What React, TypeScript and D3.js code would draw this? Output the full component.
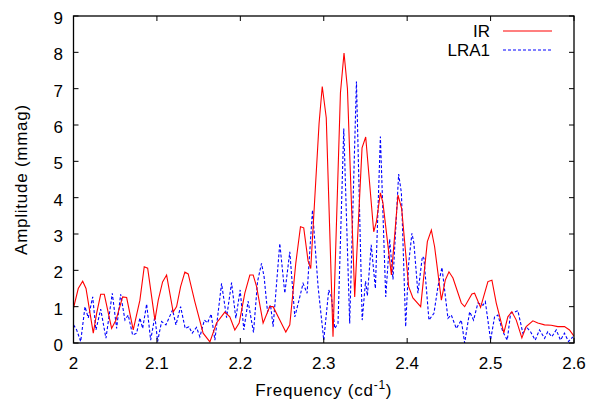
import React from "react";
import * as d3 from "d3";

const irFreq = [2.0, 2.0057, 2.011, 2.015, 2.0237, 2.0278, 2.0326, 2.0369, 2.0457, 2.0509, 2.0589, 2.0637, 2.0716, 2.0796, 2.0848, 2.0889, 2.0976, 2.1016, 2.1068, 2.1116, 2.1195, 2.1236, 2.1284, 2.1335, 2.1375, 2.1455, 2.1554, 2.1635, 2.1715, 2.1814, 2.1874, 2.1934, 2.1986, 2.2054, 2.2114, 2.2154, 2.2195, 2.2273, 2.2353, 2.2393, 2.2473, 2.2545, 2.2593, 2.2665, 2.2721, 2.276, 2.2812, 2.2844, 2.2944, 2.2982, 2.303, 2.3111, 2.32, 2.3243, 2.3284, 2.3371, 2.3459, 2.3503, 2.3599, 2.3631, 2.3679, 2.371, 2.3811, 2.389, 2.3934, 2.4018, 2.4069, 2.4162, 2.4242, 2.429, 2.4329, 2.441, 2.4457, 2.4501, 2.4549, 2.4649, 2.4689, 2.4776, 2.4808, 2.488, 2.4968, 2.5016, 2.5068, 2.5159, 2.5207, 2.5255, 2.5308, 2.5375, 2.5427, 2.5507, 2.5566, 2.5647, 2.5727, 2.5806, 2.5886, 2.5946, 2.6];
const irAmp = [0.96, 1.5, 1.7, 1.5, 0.27, 0.82, 1.34, 1.34, 0.4, 0.63, 1.27, 1.25, 0.36, 1.18, 2.1, 2.06, 0.63, 1.18, 1.68, 1.87, 0.85, 1.0, 1.55, 1.95, 1.9, 1.13, 0.27, 0.03, 0.55, 0.85, 0.72, 0.36, 0.55, 1.37, 1.87, 1.87, 1.55, 0.55, 1.0, 1.0, 0.63, 0.3, 0.5, 2.2, 3.2, 3.17, 2.26, 2.05, 6.05, 7.06, 6.2, 0.17, 6.88, 7.98, 7.0, 1.27, 5.37, 5.67, 3.06, 3.33, 4.13, 3.85, 1.87, 4.07, 3.7, 1.55, 1.24, 1.0, 2.79, 3.11, 2.65, 1.18, 1.73, 1.96, 1.79, 1.1, 1.0, 1.35, 1.37, 0.98, 1.69, 1.73, 1.1, 0.28, 0.72, 0.86, 0.63, 0.14, 0.45, 0.61, 0.55, 0.5, 0.49, 0.45, 0.45, 0.36, 0.19];

const lraFreq = [2.0, 2.0038, 2.0086, 2.0138, 2.0177, 2.023, 2.0269, 2.0326, 2.0389, 2.0465, 2.0517, 2.0565, 2.0617, 2.0656, 2.0709, 2.0757, 2.0796, 2.0829, 2.0877, 2.0925, 2.0976, 2.1008, 2.1056, 2.1108, 2.1188, 2.1228, 2.1284, 2.1339, 2.1383, 2.1423, 2.1475, 2.1515, 2.1569, 2.1607, 2.165, 2.1695, 2.1775, 2.1835, 2.1895, 2.1946, 2.1998, 2.2042, 2.2093, 2.2158, 2.2206, 2.2254, 2.2285, 2.2326, 2.2362, 2.2393, 2.2473, 2.2533, 2.2593, 2.2653, 2.2713, 2.2752, 2.28, 2.2865, 2.2932, 2.3, 2.306, 2.3092, 2.3132, 2.3171, 2.324, 2.3311, 2.3392, 2.3461, 2.3501, 2.3523, 2.3569, 2.3619, 2.3679, 2.3743, 2.379, 2.383, 2.3898, 2.3931, 2.3982, 2.4018, 2.4057, 2.4081, 2.4129, 2.4182, 2.4201, 2.4261, 2.4321, 2.4369, 2.4417, 2.4489, 2.4529, 2.4589, 2.4649, 2.4689, 2.4749, 2.4796, 2.4848, 2.4908, 2.4937, 2.5, 2.5048, 2.5087, 2.5147, 2.52, 2.524, 2.5296, 2.5327, 2.5387, 2.5427, 2.5479, 2.5535, 2.5587, 2.5647, 2.5686, 2.5734, 2.5787, 2.5838, 2.5886, 2.5934, 2.5986];
const lraAmp = [0.5, 0.36, 0.04, 1.0, 0.69, 1.27, 0.36, 0.93, 0.13, 1.37, 0.4, 1.34, 0.63, 0.77, 0.22, 0.27, 0.69, 0.4, 1.07, 0.08, 0.74, 0.04, 0.59, 0.5, 0.91, 0.5, 1.0, 0.4, 0.45, 0.27, 0.43, 0.17, 0.63, 0.55, 0.8, 0.08, 1.64, 0.7, 1.66, 0.68, 1.46, 0.36, 1.15, 0.29, 1.69, 2.19, 1.82, 0.86, 1.05, 0.45, 2.74, 1.37, 2.51, 0.72, 1.27, 1.64, 1.37, 3.66, 1.55, 0.08, 1.46, 1.27, 0.4, 0.54, 5.9, 0.54, 7.2, 0.63, 1.7, 1.3, 2.7, 1.5, 5.68, 1.27, 2.86, 1.75, 4.65, 4.13, 0.45, 2.19, 3.02, 2.74, 1.37, 2.38, 2.33, 0.63, 0.82, 1.55, 2.08, 0.68, 0.77, 0.4, 0.63, 0.0, 0.86, 0.63, 1.1, 1.04, 1.14, 0.08, 0.72, 0.77, 0.31, 0.08, 0.82, 0.86, 0.89, 0.27, 0.45, 0.31, 0.08, 0.36, 0.13, 0.31, 0.17, 0.36, 0.08, 0.27, 0.04, 0.17];

const xTicks = [2, 2.1, 2.2, 2.3, 2.4, 2.5, 2.6];
const xTickLabels = ["2", "2.1", "2.2", "2.3", "2.4", "2.5", "2.6"];
const yTicks = [0, 1, 2, 3, 4, 5, 6, 7, 8, 9];

const seriesNames = ["IR", "LRA1"];

export default function App() {
  const W = 591, H = 402;
  const left = 73.5, right = 574, top = 16, bottom = 343;
  const x = d3.scaleLinear().domain([2, 2.6]).range([left, right]);
  const y = d3.scaleLinear().domain([0, 9]).range([bottom, top]);
  const line = d3.line<[number, number]>().x(d => x(d[0])).y(d => y(d[1]));
  const irPts = irFreq.map((f, i) => [f, irAmp[i]] as [number, number]);
  const lraPts = lraFreq.map((f, i) => [f, lraAmp[i]] as [number, number]);
  const font = "'Liberation Sans', Arial, Helvetica, sans-serif";
  const fs = 17;
  const tickLen = 5;
  return (
    <svg width={W} height={H} style={{ position: "absolute", left: 0, top: 0, background: "#fff" }} fontFamily={font}>
      <rect x={0} y={0} width={W} height={H} fill="#fff" />
      <defs>
        <clipPath id="plotclip">
          <rect x={left} y={top} width={right - left} height={bottom - top} />
        </clipPath>
      </defs>
      <g clipPath="url(#plotclip)">
        <path d={line(lraPts) || ""} fill="none" stroke="#0000ff" strokeWidth={1.1} strokeDasharray="3,2" />
        <path d={line(irPts) || ""} fill="none" stroke="#ff0000" strokeWidth={1.1} />
      </g>
      {xTicks.map((t, i) => (
        <g key={"x" + i}>
          <line x1={x(t)} x2={x(t)} y1={bottom} y2={bottom - tickLen} stroke="#000" strokeWidth={1} />
          <line x1={x(t)} x2={x(t)} y1={top} y2={top + tickLen} stroke="#000" strokeWidth={1} />
          <text x={x(t)} y={369} fontSize={fs} textAnchor="middle" fill="#000">{xTickLabels[i]}</text>
        </g>
      ))}
      {yTicks.map((t, i) => (
        <g key={"y" + i}>
          <line x1={left} x2={left + tickLen} y1={y(t)} y2={y(t)} stroke="#000" strokeWidth={1} />
          <line x1={right} x2={right - tickLen} y1={y(t)} y2={y(t)} stroke="#000" strokeWidth={1} />
          <text x={63} y={y(t) + 8} fontSize={fs} textAnchor="end" fill="#000">{t}</text>
        </g>
      ))}
      <rect x={left} y={top} width={right - left} height={bottom - top} fill="none" stroke="#000" strokeWidth={1.3} />
      <text x={(left + right) / 2} y={396} fontSize={fs} letterSpacing={0.75} textAnchor="middle" fill="#000">
        Frequency (cd<tspan dy={-7} fontSize={12}>-1</tspan><tspan dy={7}>)</tspan>
      </text>
      <text transform={`translate(27, ${(top + bottom) / 2}) rotate(-90)`} fontSize={fs} letterSpacing={0.75} textAnchor="middle" fill="#000">
        Amplitude (mmag)
      </text>
      <text x={490} y={37} fontSize={fs} textAnchor="end" fill="#000">{seriesNames[0]}</text>
      <line x1={503} x2={552} y1={31} y2={31} stroke="#ff0000" strokeWidth={1.1} />
      <text x={490} y={56} fontSize={fs} textAnchor="end" fill="#000">{seriesNames[1]}</text>
      <line x1={503} x2={552} y1={50} y2={50} stroke="#0000ff" strokeWidth={1.1} strokeDasharray="3,2" />
    </svg>
  );
}
